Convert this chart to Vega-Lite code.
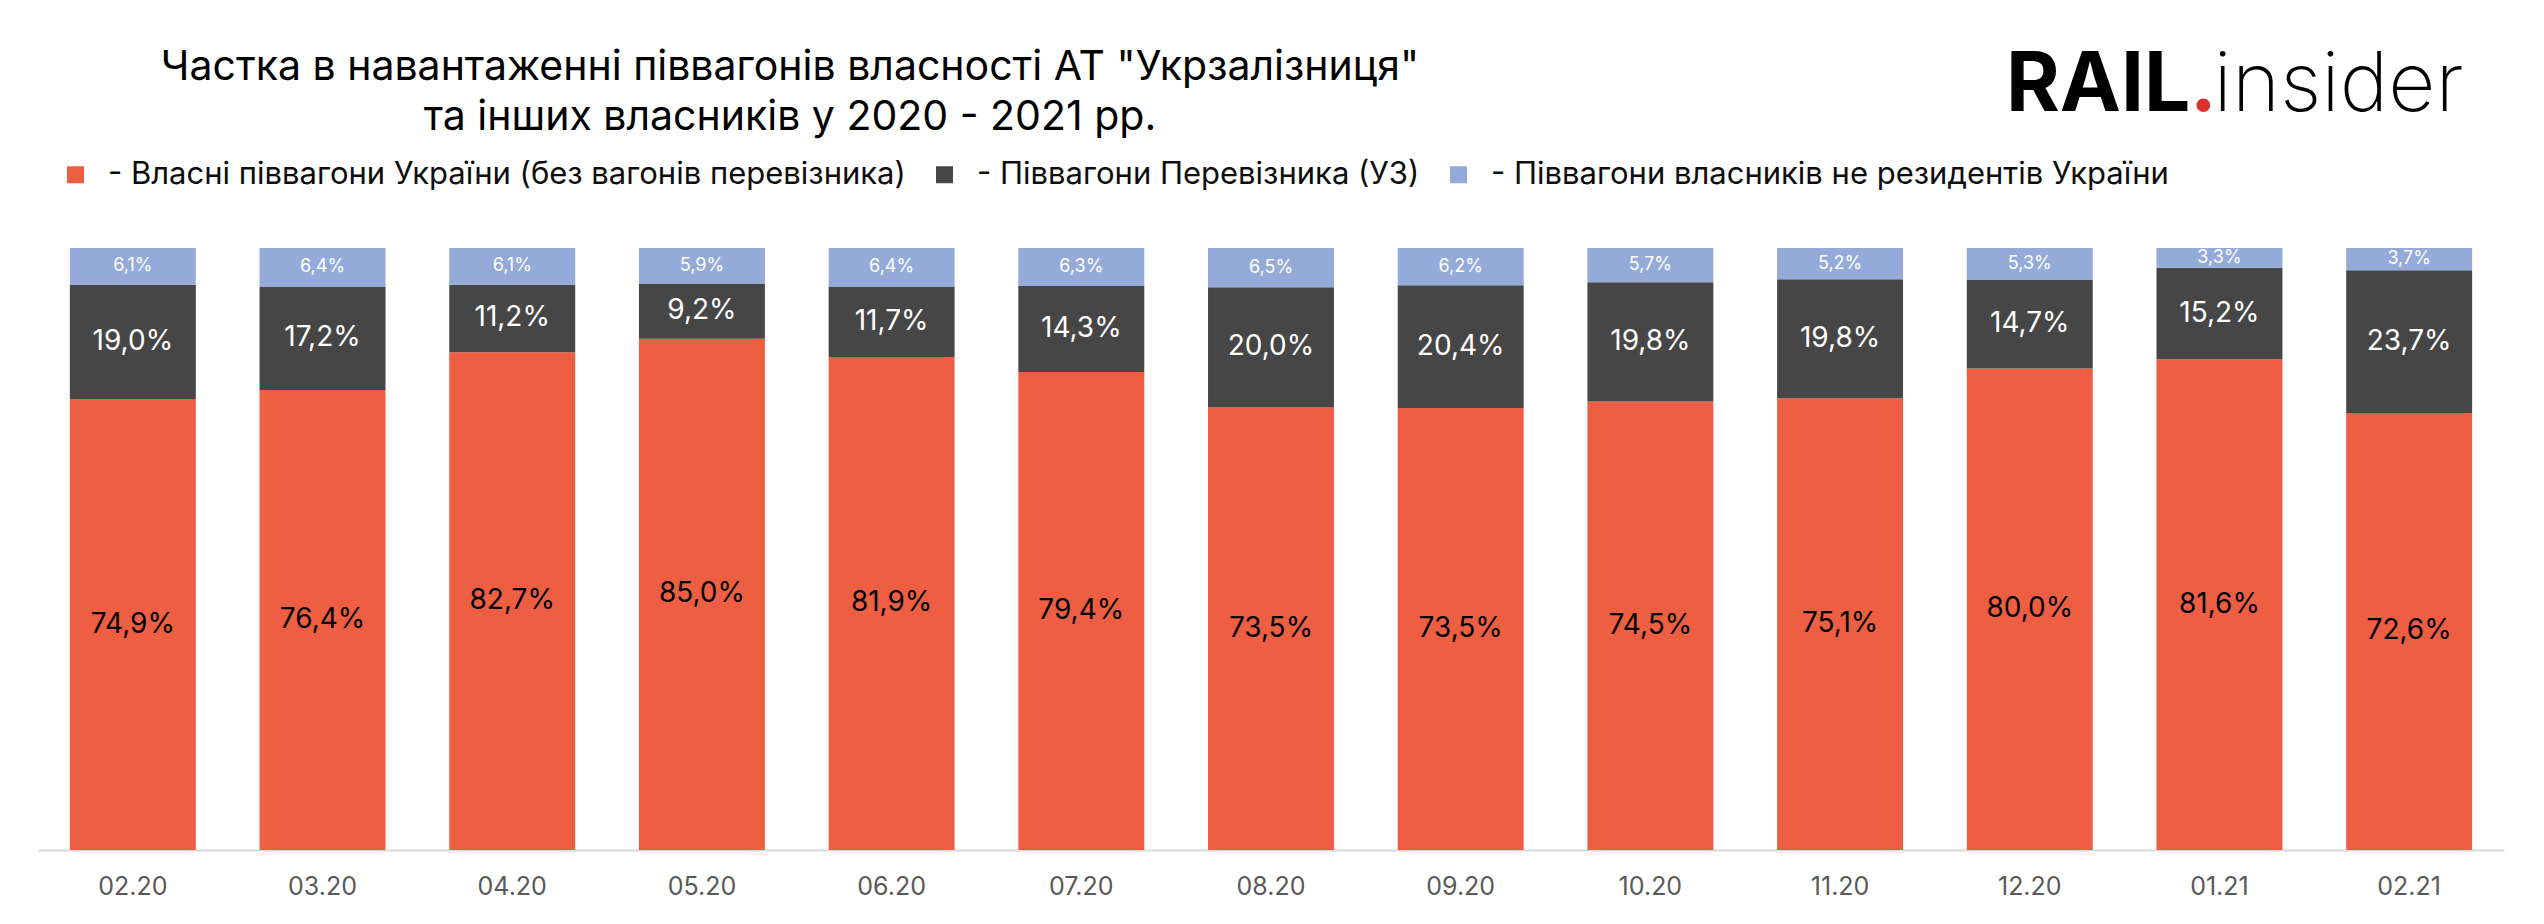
{
  "$schema": "https://vega.github.io/schema/vega-lite/v6.json",
  "autosize": "none",
  "width": 2466,
  "height": 602,
  "padding": {"left": 38, "top": 248, "right": 40, "bottom": 74},
  "background": "white",
  "datasets": {
    "logo": [{"brand": "RAIL"}]
  },
  "data": {
    "values": [
      {"m": "02.20", "cat": "Власні піввагони України (без вагонів перевізника)", "v": 0.749},
      {"m": "02.20", "cat": "Піввагони Перевізника (УЗ)", "v": 0.190},
      {"m": "02.20", "cat": "Піввагони власників не резидентів України", "v": 0.061},
      {"m": "03.20", "cat": "Власні піввагони України (без вагонів перевізника)", "v": 0.764},
      {"m": "03.20", "cat": "Піввагони Перевізника (УЗ)", "v": 0.172},
      {"m": "03.20", "cat": "Піввагони власників не резидентів України", "v": 0.064},
      {"m": "04.20", "cat": "Власні піввагони України (без вагонів перевізника)", "v": 0.827},
      {"m": "04.20", "cat": "Піввагони Перевізника (УЗ)", "v": 0.112},
      {"m": "04.20", "cat": "Піввагони власників не резидентів України", "v": 0.061},
      {"m": "05.20", "cat": "Власні піввагони України (без вагонів перевізника)", "v": 0.850},
      {"m": "05.20", "cat": "Піввагони Перевізника (УЗ)", "v": 0.092},
      {"m": "05.20", "cat": "Піввагони власників не резидентів України", "v": 0.059},
      {"m": "06.20", "cat": "Власні піввагони України (без вагонів перевізника)", "v": 0.819},
      {"m": "06.20", "cat": "Піввагони Перевізника (УЗ)", "v": 0.117},
      {"m": "06.20", "cat": "Піввагони власників не резидентів України", "v": 0.064},
      {"m": "07.20", "cat": "Власні піввагони України (без вагонів перевізника)", "v": 0.794},
      {"m": "07.20", "cat": "Піввагони Перевізника (УЗ)", "v": 0.143},
      {"m": "07.20", "cat": "Піввагони власників не резидентів України", "v": 0.063},
      {"m": "08.20", "cat": "Власні піввагони України (без вагонів перевізника)", "v": 0.735},
      {"m": "08.20", "cat": "Піввагони Перевізника (УЗ)", "v": 0.200},
      {"m": "08.20", "cat": "Піввагони власників не резидентів України", "v": 0.065},
      {"m": "09.20", "cat": "Власні піввагони України (без вагонів перевізника)", "v": 0.735},
      {"m": "09.20", "cat": "Піввагони Перевізника (УЗ)", "v": 0.204},
      {"m": "09.20", "cat": "Піввагони власників не резидентів України", "v": 0.062},
      {"m": "10.20", "cat": "Власні піввагони України (без вагонів перевізника)", "v": 0.745},
      {"m": "10.20", "cat": "Піввагони Перевізника (УЗ)", "v": 0.198},
      {"m": "10.20", "cat": "Піввагони власників не резидентів України", "v": 0.057},
      {"m": "11.20", "cat": "Власні піввагони України (без вагонів перевізника)", "v": 0.751},
      {"m": "11.20", "cat": "Піввагони Перевізника (УЗ)", "v": 0.198},
      {"m": "11.20", "cat": "Піввагони власників не резидентів України", "v": 0.052},
      {"m": "12.20", "cat": "Власні піввагони України (без вагонів перевізника)", "v": 0.800},
      {"m": "12.20", "cat": "Піввагони Перевізника (УЗ)", "v": 0.147},
      {"m": "12.20", "cat": "Піввагони власників не резидентів України", "v": 0.053},
      {"m": "01.21", "cat": "Власні піввагони України (без вагонів перевізника)", "v": 0.816},
      {"m": "01.21", "cat": "Піввагони Перевізника (УЗ)", "v": 0.152},
      {"m": "01.21", "cat": "Піввагони власників не резидентів України", "v": 0.033},
      {"m": "02.21", "cat": "Власні піввагони України (без вагонів перевізника)", "v": 0.726},
      {"m": "02.21", "cat": "Піввагони Перевізника (УЗ)", "v": 0.237},
      {"m": "02.21", "cat": "Піввагони власників не резидентів України", "v": 0.037}
    ]
  },
  "encoding": {
    "x": {
      "field": "m",
      "type": "ordinal",
      "sort": null,
      "title": null,
      "scale": {"paddingInner": 0.336, "paddingOuter": 0.168},
      "axis": {"labelAngle": 0}
    }
  },
  "layer": [
    {
      "transform": [
        {"stack": "v", "groupby": ["m"], "sort": [{"field": "cat", "order": "ascending"}], "offset": "normalize", "as": ["v0", "v1"]}
      ],
      "mark": {"type": "bar"},
      "encoding": {
        "y": {"field": "v1", "type": "quantitative", "scale": {"domain": [0, 1], "nice": false, "zero": true}, "axis": null},
        "y2": {"field": "v0"},
        "color": {
          "field": "cat",
          "type": "nominal",
          "scale": {
            "domain": [
              "Власні піввагони України (без вагонів перевізника)",
              "Піввагони Перевізника (УЗ)",
              "Піввагони власників не резидентів України"
            ],
            "range": ["#ED5E42", "#464646", "#94AAD9"]
          },
          "legend": {"labelExpr": "'- ' + datum.label"}
        }
      }
    },
    {
      "transform": [
        {"stack": "v", "groupby": ["m"], "sort": [{"field": "cat", "order": "ascending"}], "offset": "normalize", "as": ["v0", "v1"]},
        {"fold": ["v0", "v1"], "as": ["edge", "pos"]},
        {"aggregate": [{"op": "mean", "field": "pos", "as": "mid"}], "groupby": ["m", "cat", "v"]}
      ],
      "mark": {"type": "text", "baseline": "middle", "align": "center", "font": "Inter"},
      "encoding": {
        "y": {"field": "mid", "type": "quantitative"},
        "text": {"field": "v", "type": "quantitative", "format": ".1%"},
        "color": {
          "condition": {"test": "indexof(datum.cat, 'Власні') == 0", "value": "#000000"},
          "value": "#ffffff"
        },
        "size": {
          "condition": {"test": "indexof(datum.cat, 'резидентів') >= 0", "value": 18},
          "value": 28
        }
      }
    },
    {
      "data": {"name": "logo"},
      "mark": {
        "type": "text",
        "text": ["Частка в навантаженні піввагонів власності АТ \"Укрзалізниця\"", "та інших власників у 2020 - 2021 рр."],
        "align": "center",
        "baseline": "alphabetic",
        "font": "Inter",
        "fontSize": 41,
        "lineHeight": 50,
        "color": "#000000",
        "dx": 88
      },
      "encoding": {
        "x": {"datum": "05.20", "type": "ordinal", "title": null},
        "y": {"datum": 1.279, "type": "quantitative"}
      }
    },
    {
      "data": {"name": "logo"},
      "mark": {"type": "text", "align": "right", "baseline": "alphabetic", "font": "Inter", "fontSize": 82, "fontWeight": "bold", "color": "#000000", "dx": -29},
      "encoding": {
        "x": {"datum": "01.21", "type": "ordinal", "title": null},
        "y": {"datum": 1.228, "type": "quantitative"},
        "text": {"field": "brand"}
      }
    },
    {
      "data": {"name": "logo"},
      "mark": {"type": "text", "text": ".", "align": "center", "baseline": "alphabetic", "font": "Inter", "fontSize": 80, "fontWeight": "bold", "color": "#D7322E", "dx": -16},
      "encoding": {
        "x": {"datum": "01.21", "type": "ordinal", "title": null},
        "y": {"datum": 1.228, "type": "quantitative"}
      }
    },
    {
      "data": {"name": "logo"},
      "mark": {"type": "text", "text": "insider", "align": "left", "baseline": "alphabetic", "font": "Inter", "fontSize": 82, "fontWeight": 200, "color": "#000000", "dx": -6},
      "encoding": {
        "x": {"datum": "01.21", "type": "ordinal", "title": null},
        "y": {"datum": 1.228, "type": "quantitative"}
      }
    }
  ],
  "config": {
    "view": {"stroke": null},
    "locale": {
      "number": {"decimal": ",", "thousands": " ", "grouping": [3], "currency": ["", ""]}
    },
    "axisX": {
      "domainColor": "#D9D9D9",
      "domainWidth": 2,
      "ticks": false,
      "grid": false,
      "labelAngle": 0,
      "labelFont": "Inter",
      "labelFontSize": 25,
      "labelColor": "#595959",
      "labelPadding": 24
    },
    "legend": {
      "orient": "none",
      "legendX": 22,
      "legendY": -89,
      "direction": "horizontal",
      "title": null,
      "symbolType": "square",
      "symbolSize": 289,
      "symbolStrokeWidth": 0,
      "labelFont": "Inter",
      "labelFontSize": 31,
      "labelColor": "#0d0d0d",
      "labelOffset": 17,
      "columnPadding": 23,
      "labelLimit": 2000,
      "padding": 0
    }
  }
}
